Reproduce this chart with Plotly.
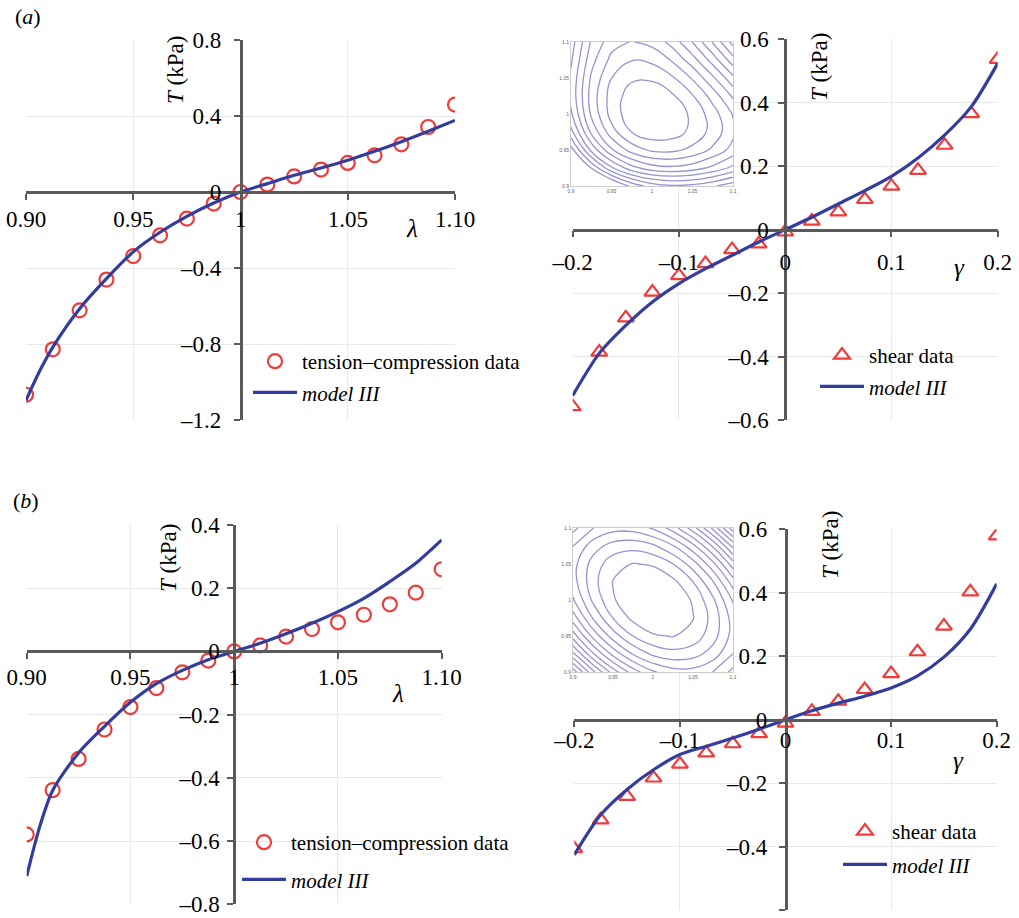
import plotly.graph_objects as go

W, H = 1019, 918
FONT = "Liberation Serif, Times New Roman, serif"
AX = "#5a5a5a"
GRID = "#e9e9e9"
RED = "#ee3b3b"
BLUE = "#333d9e"
CONT = "#9494d2"

# ---------------- data ----------------
lam = [0.9, 0.9125, 0.925, 0.9375, 0.95, 0.9625, 0.975, 0.9875, 1.0,
       1.0125, 1.025, 1.0375, 1.05, 1.0625, 1.075, 1.0875, 1.1]
lam_model = [0.9, 0.90625, 0.9125, 0.925, 0.9375, 0.95, 0.9625, 0.975, 0.9875, 1.0,
             1.0125, 1.025, 1.0375, 1.05, 1.0625, 1.075, 1.0875, 1.1]
gam = [-0.2, -0.175, -0.15, -0.125, -0.1, -0.075, -0.05, -0.025, 0.0,
       0.025, 0.05, 0.075, 0.1, 0.125, 0.15, 0.175, 0.2]

# panel (a)
tc_data_a = [-1.067, -0.828, -0.623, -0.461, -0.337, -0.228, -0.140, -0.061, 0.0,
             0.039, 0.082, 0.118, 0.153, 0.193, 0.251, 0.342, 0.460]
tc_model_a = [-1.096, -0.945, -0.816, -0.614, -0.456, -0.315, -0.212, -0.128, -0.058, 0.0,
              0.044, 0.088, 0.126, 0.167, 0.214, 0.265, 0.320, 0.377]
sh_data_a = [-0.558, -0.386, -0.278, -0.197, -0.145, -0.107, -0.063, -0.045, -0.007,
             0.027, 0.056, 0.095, 0.137, 0.187, 0.266, 0.366, 0.537]
sh_model_a = [-0.523, -0.390, -0.302, -0.228, -0.170, -0.123, -0.081, -0.039, 0.0,
              0.039, 0.081, 0.123, 0.168, 0.226, 0.298, 0.387, 0.524]

# panel (b)
tc_data_b = [-0.579, -0.439, -0.340, -0.247, -0.176, -0.116, -0.066, -0.029, 0.0,
             0.019, 0.047, 0.071, 0.092, 0.116, 0.149, 0.186, 0.260]
tc_model_b = [-0.711, -0.555, -0.440, -0.321, -0.237, -0.161, -0.102, -0.060, -0.026, 0.0,
              0.026, 0.056, 0.089, 0.126, 0.168, 0.221, 0.279, 0.353]
sh_data_b = [-0.407, -0.316, -0.242, -0.184, -0.140, -0.105, -0.076, -0.044, -0.011,
             0.026, 0.058, 0.095, 0.145, 0.214, 0.295, 0.403, 0.579]
sh_model_b = [-0.426, -0.300, -0.220, -0.158, -0.110, -0.084, -0.058, -0.030, 0.0,
              0.028, 0.052, 0.074, 0.100, 0.138, 0.197, 0.285, 0.428]

# inset contour fields (estimated levels)
inset_grid = [0.9, 0.925, 0.95, 0.975, 1.0, 1.025, 1.05, 1.075, 1.1]
inset_a_z = [
    [18.72, 14.62, 11.65, 9.68, 8.55, 8.13, 8.27, 8.82, 9.64],
    [13.86, 9.95, 7.17, 5.38, 4.44, 4.21, 4.53, 5.27, 6.28],
    [10.48, 6.75, 4.16, 2.56, 1.81, 1.76, 2.28, 3.20, 4.40],
    [8.33, 4.79, 2.39, 0.98, 0.41, 0.55, 1.25, 2.37, 3.75],
    [7.17, 3.82, 1.60, 0.38, 0.00, 0.33, 1.22, 2.52, 4.09],
    [6.75, 3.59, 1.56, 0.52, 0.33, 0.85, 1.92, 3.41, 5.17],
    [6.83, 3.85, 2.01, 1.16, 1.16, 1.86, 3.12, 4.80, 6.74],
    [7.15, 4.36, 2.71, 2.04, 2.23, 3.12, 4.57, 6.43, 8.57],
    [7.48, 4.88, 3.41, 2.94, 3.31, 4.39, 6.02, 8.08, 10.40],
]
inset_b_z = [
    [11.12, 8.59, 6.56, 5.03, 4.00, 3.47, 3.44, 3.91, 4.88],
    [8.59, 6.26, 4.42, 3.09, 2.25, 1.92, 2.08, 2.75, 3.91],
    [6.56, 4.42, 2.78, 1.64, 1.00, 0.86, 1.22, 2.08, 3.44],
    [5.03, 3.09, 1.64, 0.695, 0.25, 0.305, 0.86, 1.92, 3.47],
    [4.00, 2.25, 1.00, 0.25, 0.00, 0.25, 1.00, 2.25, 4.00],
    [3.47, 1.92, 0.86, 0.305, 0.25, 0.695, 1.64, 3.09, 5.03],
    [3.44, 2.08, 1.22, 0.86, 1.00, 1.64, 2.78, 4.42, 6.56],
    [3.91, 2.75, 2.08, 1.92, 2.25, 3.09, 4.42, 6.26, 8.59],
    [4.88, 3.91, 3.44, 3.47, 4.00, 5.03, 6.56, 8.59, 11.12],
]
inset_ticks = [0.9, 0.95, 1.0, 1.05, 1.1]
inset_ticktext = ["0.9", "0.95", "1", "1.05", "1.1"]

lam_ticks = [0.9, 0.95, 1.0, 1.05, 1.1]
lam_ticktext = ["0.90", "0.95", "1", "1.05", "1.10"]
gam_ticks = [-0.2, -0.1, 0.0, 0.1, 0.2]
gam_ticktext = ["–0.2", "–0.1", "0", "0.1", "0.2"]
Ta_ticks = [-1.2, -0.8, -0.4, 0.0, 0.4, 0.8]
Ta_ticktext = ["–1.2", "–0.8", "–0.4", "0", "0.4", "0.8"]
Tb_ticks = [-0.8, -0.6, -0.4, -0.2, 0.0, 0.2, 0.4]
Tb_ticktext = ["–0.8", "–0.6", "–0.4", "–0.2", "0", "0.2", "0.4"]
Ts_ticks = [-0.6, -0.4, -0.2, 0.0, 0.2, 0.4, 0.6]
Ts_ticktext = ["–0.6", "–0.4", "–0.2", "0", "0.2", "0.4", "0.6"]

# ---------------- figure ----------------
fig = go.Figure()

def px_x(p):
    return p / W

def px_y(p):
    return 1 - p / H

def add_panel(n, xs, data, xm, model, symbol, legend, grp):
    ax = "" if n == 1 else str(n)
    fig.add_trace(go.Scatter(
        x=xs, y=data, mode="markers", xaxis="x" + ax, yaxis="y" + ax,
        marker=dict(symbol=symbol, size=14, color=RED, line=dict(color=RED, width=2.2)),
        name=("tension–compression data" if symbol.startswith("circle") else "shear data"),
        legend=legend, legendgroup=grp + "d", hoverinfo="skip"))
    fig.add_trace(go.Scatter(
        x=xm, y=model, mode="lines", xaxis="x" + ax, yaxis="y" + ax,
        line=dict(color=BLUE, width=3.2, shape="spline", smoothing=0.8),
        name="<i>model III</i>", legend=legend, legendgroup=grp + "m", hoverinfo="skip"))

add_panel(1, lam, tc_data_a, lam_model, tc_model_a, "circle-open", "legend", "a")
add_panel(2, gam, sh_data_a, gam, sh_model_a, "triangle-up-open", "legend2", "b")
add_panel(3, lam, tc_data_b, lam_model, tc_model_b, "circle-open", "legend3", "c")
add_panel(4, gam, sh_data_b, gam, sh_model_b, "triangle-up-open", "legend4", "d")

for n, z in ((5, inset_a_z), (6, inset_b_z)):
    fig.add_trace(go.Contour(
        x=inset_grid, y=inset_grid, z=z, xaxis="x%d" % n, yaxis="y%d" % n,
        contours=dict(coloring="none", start=(1 if n == 5 else 0.9),
                      end=(10 if n == 5 else 12), size=(1 if n == 5 else 0.75)),
        line=dict(color=CONT, width=1.3, smoothing=1.3),
        showscale=False, showlegend=False, hoverinfo="skip"))

layout = dict(width=W, height=H,
              margin=dict(l=0, r=0, t=0, b=0, pad=0, autoexpand=False),
              paper_bgcolor="white", plot_bgcolor="white",
              font=dict(family=FONT, color="black"), showlegend=True)

def main_axes(n, xpx, ypx, xr, yr, xcross, xtv, xtt, ytv, ytt, xstand, ystand):
    xd = [px_x(xpx[0]), px_x(xpx[1])]
    yd = [px_y(ypx[1]), px_y(ypx[0])]
    xpos = yd[0] + (0 - yr[0]) / (yr[1] - yr[0]) * (yd[1] - yd[0])
    ypos = xd[0] + (xcross - xr[0]) / (xr[1] - xr[0]) * (xd[1] - xd[0])
    common = dict(showline=True, linecolor=AX, linewidth=2.5, ticks="outside",
                  ticklen=6, tickwidth=2, tickcolor=AX, showgrid=True,
                  gridcolor=GRID, gridwidth=1, zeroline=False, automargin=False,
                  tickfont=dict(family=FONT, size=23, color="black"))
    s = "" if n == 1 else str(n)
    layout["xaxis" + s] = dict(domain=xd, range=xr, anchor="free", position=xpos,
                               tickmode="array", tickvals=xtv, ticktext=xtt,
                               ticklabelstandoff=xstand, **common)
    layout["yaxis" + s] = dict(domain=yd, range=yr, anchor="free", position=ypos,
                               tickmode="array", tickvals=ytv, ticktext=ytt,
                               ticklabelstandoff=ystand, **common)

main_axes(1, (26, 455), (40, 420), [0.9, 1.1], [-1.2, 0.8], 1.0,
          lam_ticks, lam_ticktext, Ta_ticks, Ta_ticktext, 0, 8)
main_axes(2, (572.7, 997.7), (39.3, 420), [-0.2, 0.2], [-0.6, 0.6], 0.0,
          gam_ticks, gam_ticktext, Ts_ticks, Ts_ticktext, 5, 5)
main_axes(3, (26.7, 441.7), (525, 904.3), [0.9, 1.1], [-0.8, 0.4], 1.0,
          lam_ticks, lam_ticktext, Tb_ticks, Tb_ticktext, -2, 3)
main_axes(4, (574.3, 996.7), (529.3, 910), [-0.2, 0.2], [-0.6, 0.6], 0.0,
          gam_ticks, gam_ticktext, Ts_ticks, Ts_ticktext, -7, 7)

def inset_axes(n, xpx, ypx):
    common = dict(range=[0.9, 1.1], showline=True, mirror=True, linecolor="#cdcdcd",
                  linewidth=1, ticks="", tickmode="array", tickvals=inset_ticks,
                  ticktext=inset_ticktext, tickfont=dict(family="Liberation Sans", size=5, color="#666"),
                  showgrid=False, zeroline=False, automargin=False)
    layout["xaxis%d" % n] = dict(domain=[px_x(xpx[0]), px_x(xpx[1])], anchor="y%d" % n, **common)
    layout["yaxis%d" % n] = dict(domain=[px_y(ypx[1]), px_y(ypx[0])], anchor="x%d" % n, **common)

inset_axes(5, (571, 733), (42, 186))
inset_axes(6, (573, 733), (528, 672))

def legend_cfg(cx, cy, gap):
    return dict(x=px_x(cx - 27), y=px_y(cy - 21), xanchor="left", yanchor="top",
                bgcolor="rgba(0,0,0,0)", borderwidth=0, traceorder="grouped",
                tracegroupgap=gap, itemwidth=44,
                font=dict(family=FONT, size=21, color="black"))

layout["legend"] = legend_cfg(275, 362, 1)
layout["legend2"] = legend_cfg(842, 356, 1)
layout["legend3"] = legend_cfg(264, 843, 7)
layout["legend4"] = legend_cfg(865, 832, 3)

ann = []
def text(t, x, y, size=23, angle=0):
    ann.append(dict(text=t, x=px_x(x), y=px_y(y), xref="paper", yref="paper",
                    xanchor="center", yanchor="middle", showarrow=False, textangle=angle,
                    font=dict(family=FONT, size=size, color="black")))

text("(<i>a</i>)", 28, 17, 22)
text("(<i>b</i>)", 26, 500, 22)
text("<i>T</i> (kPa)", 175, 70, 23, -90)
text("<i>T</i> (kPa)", 819, 67, 23, -90)
text("<i>T</i> (kPa)", 168, 558, 23, -90)
text("<i>T</i> (kPa)", 830, 545, 23, -90)
text("<i>λ</i>", 412, 228, 25)
text("<i>λ</i>", 398, 693, 25)
text("<i>γ</i>", 959, 267, 25)
text("<i>γ</i>", 958, 760, 25)
layout["annotations"] = ann

fig.update_layout(**layout)
fig.write_html("out.html")
